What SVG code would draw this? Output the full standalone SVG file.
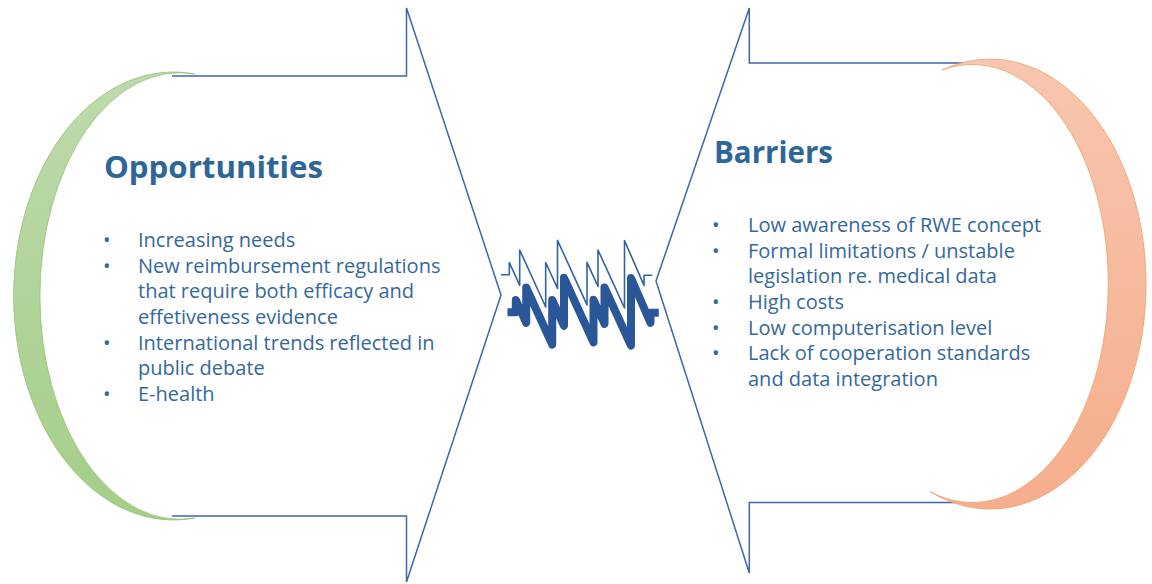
<svg xmlns="http://www.w3.org/2000/svg" width="1152" height="584" viewBox="0 0 1152 584">
<defs>
<linearGradient id="gGreen" x1="0" y1="0" x2="0" y2="1">
<stop offset="0" stop-color="#bedaac"/>
<stop offset="1" stop-color="#a4ce88"/>
</linearGradient>
<linearGradient id="gOrange" x1="0" y1="0" x2="0" y2="1">
<stop offset="0" stop-color="#f7c6af"/>
<stop offset="1" stop-color="#f5ae8c"/>
</linearGradient>
<style>
.arrow{fill:none;stroke:#3c66ad;stroke-width:1.5;stroke-linejoin:miter}
.title{font-family:"Open Sans","Noto Sans",sans-serif;font-weight:bold;font-size:30px;fill:#2e6697}
.body{font-family:"Open Sans","Noto Sans",sans-serif;font-size:20px;fill:#34689b}
.zz{fill:none;stroke-linejoin:round}
</style>
</defs>
<rect width="1152" height="584" fill="#ffffff"/>

<g id="arrow-left">
<path class="arrow" d="M172,76 H406.5 V8 L501,295 L406.5,582 V516 H172"/>
</g>
<g id="arrow-right">
<path class="arrow" d="M963,63 H749.3 V8 L656,281 L749.3,573 V502.5 H958"/>
</g>

<g id="crescent-left">
<path d="M195,74 A160 224 0 1 0 195,518 A140 223.3 0 1 1 195,74 Z" fill="url(#gGreen)" stroke="#93c274" stroke-width="0.8"/>
</g>
<g id="crescent-right">
<path d="M942,70 A156 225 0 1 1 930,491.7 A136 219 0 1 0 942,70 Z" fill="url(#gOrange)" stroke="#f0a06e" stroke-width="0.8"/>
</g>

<g id="icon">
<path class="zz" stroke="#3562a6" stroke-width="1.6" d="M501,274.7 H509.3 V262.5 L519.7,285.3 V250 L545.7,307 V262.5 L557.5,288.3 V240.3 L587,304.9 V262.3 L598,286.4 V250 L624.5,308 V240.5 L644,285.4 V275.3 H652.3"/>
<path class="zz" stroke="#2b5798" stroke-width="8" transform="translate(6.5,37.5)" d="M501,274.7 H509.3 V262.5 L519.7,285.3 V250 L545.7,307 V262.5 L557.5,288.3 V240.3 L587,304.9 V262.3 L598,286.4 V250 L624.5,308 V240.5 L644,285.4 V275.3 H652.3"/>
</g>

<g id="opportunities">
<text class="title" x="104" y="178" textLength="219" lengthAdjust="spacingAndGlyphs">Opportunities</text>
<text class="body" x="103" y="247">•</text>
<text class="body" x="138" y="247">Increasing needs</text>
<text class="body" x="103" y="272.7">•</text>
<text class="body" x="138" y="272.7">New reimbursement regulations</text>
<text class="body" x="138" y="298.4">that require both efficacy and</text>
<text class="body" x="138" y="324">effetiveness evidence</text>
<text class="body" x="103" y="349.7">•</text>
<text class="body" x="138" y="349.7">International trends reflected in</text>
<text class="body" x="138" y="375.4">public debate</text>
<text class="body" x="103" y="401">•</text>
<text class="body" x="138" y="401">E-health</text>
</g>

<g id="barriers">
<text class="title" x="714" y="163.3" textLength="119" lengthAdjust="spacingAndGlyphs">Barriers</text>
<text class="body" x="712" y="232">•</text>
<text class="body" x="748" y="232">Low awareness of RWE concept</text>
<text class="body" x="712" y="257.7">•</text>
<text class="body" x="748" y="257.7">Formal limitations / unstable</text>
<text class="body" x="748" y="283.4">legislation re. medical data</text>
<text class="body" x="712" y="309">•</text>
<text class="body" x="748" y="309">High costs</text>
<text class="body" x="712" y="334.7">•</text>
<text class="body" x="748" y="334.7">Low computerisation level</text>
<text class="body" x="712" y="360.4">•</text>
<text class="body" x="748" y="360.4">Lack of cooperation standards</text>
<text class="body" x="748" y="386">and data integration</text>
</g>
</svg>
